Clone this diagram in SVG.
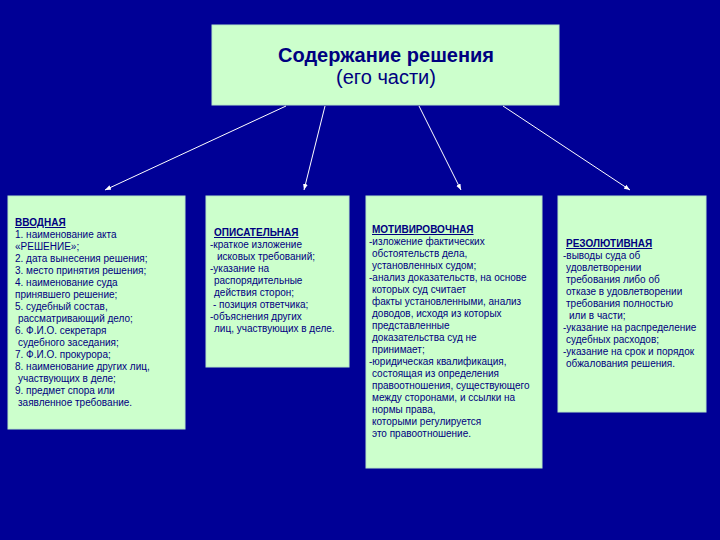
<svg xmlns="http://www.w3.org/2000/svg" width="720" height="540" viewBox="0 0 720 540">
<defs>
<style>
.box{fill:#ccffcc;stroke:#b8e8c8;stroke-width:1}
.t{font-family:"Liberation Sans",Arial,sans-serif;font-size:10px;fill:#000080}
.h{font-weight:bold;text-decoration:underline}
.title{font-family:"Liberation Sans",Arial,sans-serif;font-size:20px;fill:#000080;text-anchor:middle}
.c{stroke:#ffffff;stroke-width:1;fill:none;marker-end:url(#ah)}
</style>
<marker id="ah" viewBox="0 0 10 10" refX="10" refY="5" markerWidth="6" markerHeight="6" orient="auto" markerUnits="userSpaceOnUse">
<path d="M0,1 L10,5 L0,9 z" fill="#ffffff"/>
</marker>
</defs>
<rect x="0" y="0" width="720" height="540" fill="#000096"/>
<g id="connectors">
<line class="c" x1="286" y1="106" x2="105" y2="190"/>
<line class="c" x1="325" y1="106" x2="304" y2="190"/>
<line class="c" x1="419" y1="106" x2="461" y2="190"/>
<line class="c" x1="503" y1="106" x2="630" y2="190"/>
</g>
<g id="top">
<rect class="box" x="212" y="25" width="347" height="80"/>
<text class="title" x="386" y="62" font-weight="bold">Содержание решения</text>
<text class="title" x="386" y="84">(его части)</text>
</g>
<g id="vvodnaya">
<rect class="box" x="8" y="196" width="177" height="233"/>
<text class="t"><tspan class="h" x="15" y="226">ВВОДНАЯ</tspan>
<tspan x="15" y="238">1. наименование акта</tspan>
<tspan x="15" y="250">«РЕШЕНИЕ»;</tspan>
<tspan x="15" y="262">2. дата вынесения решения;</tspan>
<tspan x="15" y="274">3. место принятия решения;</tspan>
<tspan x="15" y="286">4. наименование суда</tspan>
<tspan x="15" y="298">принявшего решение;</tspan>
<tspan x="15" y="310">5. судебный состав,</tspan>
<tspan x="18" y="322">рассматривающий дело;</tspan>
<tspan x="15" y="334">6. Ф.И.О. секретаря</tspan>
<tspan x="18" y="346">судебного заседания;</tspan>
<tspan x="15" y="358">7. Ф.И.О. прокурора;</tspan>
<tspan x="15" y="370">8. наименование других лиц,</tspan>
<tspan x="18" y="382">участвующих в деле;</tspan>
<tspan x="15" y="394">9. предмет спора или</tspan>
<tspan x="18" y="406">заявленное требование.</tspan></text>
</g>
<g id="opisatelnaya">
<rect class="box" x="206" y="196" width="143" height="171"/>
<text class="t"><tspan class="h" x="214" y="236">ОПИСАТЕЛЬНАЯ</tspan>
<tspan x="210" y="248">-краткое изложение</tspan>
<tspan x="217" y="260">исковых требований;</tspan>
<tspan x="210" y="272">-указание на</tspan>
<tspan x="214" y="284">распорядительные</tspan>
<tspan x="214" y="296">действия сторон;</tspan>
<tspan x="213" y="308">- позиция ответчика;</tspan>
<tspan x="210" y="320">-объяснения других</tspan>
<tspan x="214" y="332">лиц, участвующих в деле.</tspan></text>
</g>
<g id="motivirovochnaya">
<rect class="box" x="366" y="196" width="176" height="272"/>
<text class="t"><tspan class="h" x="372" y="233">МОТИВИРОВОЧНАЯ</tspan>
<tspan x="369" y="245">-изложение фактических</tspan>
<tspan x="372" y="257">обстоятельств дела,</tspan>
<tspan x="372" y="269">установленных судом;</tspan>
<tspan x="369" y="281">-анализ доказательств, на основе</tspan>
<tspan x="372" y="293">которых суд считает</tspan>
<tspan x="372" y="305">факты установленными, анализ</tspan>
<tspan x="372" y="317">доводов, исходя из которых</tspan>
<tspan x="372" y="329">представленные</tspan>
<tspan x="372" y="341">доказательства суд не</tspan>
<tspan x="372" y="353">принимает;</tspan>
<tspan x="369" y="365">-юридическая квалификация,</tspan>
<tspan x="372" y="377">состоящая из определения</tspan>
<tspan x="372" y="389">правоотношения, существующего</tspan>
<tspan x="372" y="401">между сторонами, и ссылки на</tspan>
<tspan x="372" y="413">нормы права,</tspan>
<tspan x="372" y="425">которыми регулируется</tspan>
<tspan x="372" y="437">это правоотношение.</tspan></text>
</g>
<g id="rezolyutivnaya">
<rect class="box" x="558" y="196" width="148" height="216"/>
<text class="t"><tspan class="h" x="566" y="247">РЕЗОЛЮТИВНАЯ</tspan>
<tspan x="563" y="259">-выводы суда об</tspan>
<tspan x="566" y="271">удовлетворении</tspan>
<tspan x="566" y="283">требования либо об</tspan>
<tspan x="566" y="295">отказе в удовлетворении</tspan>
<tspan x="566" y="307">требования полностью</tspan>
<tspan x="569" y="319">или в части;</tspan>
<tspan x="563" y="331">-указание на распределение</tspan>
<tspan x="566" y="343">судебных расходов;</tspan>
<tspan x="563" y="355">-указание на срок и порядок</tspan>
<tspan x="566" y="367">обжалования решения.</tspan></text>
</g>
</svg>
